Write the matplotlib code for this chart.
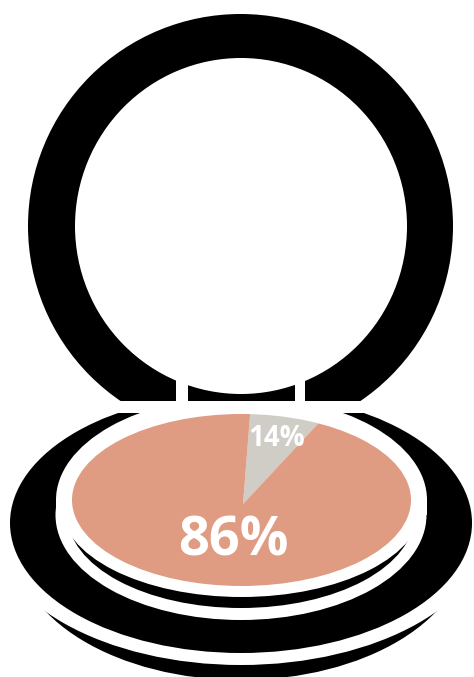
"""Compact mirror infographic: pie drawn inside a powder case."""
import matplotlib
matplotlib.use("Agg")
import matplotlib.pyplot as plt
from matplotlib.patches import Ellipse, Rectangle

labels = ["14%", "86%"]
# share of the ellipse the wedges really cover in the picture (not the printed %)
drawn_shares = [6.4, 93.6]
colors = ["#D0CCC6", "#E09C82"]

W, H = 474, 677
BLACK, WHITE = "#000000", "#FFFFFF"

fig = plt.figure(figsize=(W / 100, H / 100), dpi=100)
ax = fig.add_axes([0, 0, 1, 1])
ax.set_xlim(0, W)
ax.set_ylim(H, 0)
ax.axis("off")

# the lid stops at y=401, the base starts at y=413
lid_box = Rectangle((0, 0), W, 401, transform=ax.transData)
base_box = Rectangle((0, 413), W, H - 413, transform=ax.transData)
rim_box = Rectangle((0, 413), W, 505 - 413, transform=ax.transData)


def ell(cx, cy, rx, ry, color, box):
    p = Ellipse((cx, cy), 2 * rx, 2 * ry, facecolor=color, edgecolor="none")
    ax.add_patch(p)
    p.set_clip_path(box)


def rect(x0, y0, x1, y1, color):
    ax.add_patch(Rectangle((x0, y0), x1 - x0, y1 - y0, facecolor=color, edgecolor="none"))


# lid
ell(240.5, 226, 212.5, 212, BLACK, lid_box)
ell(241, 226, 166, 168, WHITE, lid_box)
rect(176, 350, 188, 405, WHITE)
rect(295, 350, 305, 405, WHITE)

# base, bottom layer first
ell(241, 542, 226, 138, BLACK, base_box)
ell(241, 523, 250, 142, WHITE, base_box)
ell(241, 523, 231, 130, BLACK, base_box)
ell(241, 515, 185.5, 105, WHITE, base_box)
ell(241, 515, 173.5, 93, BLACK, base_box)
ell(241.5, 500, 185.5, 104, WHITE, rim_box)
ell(241.5, 505, 181, 92, WHITE, base_box)
rect(56, 500, 427, 515, WHITE)

# pie squeezed into the ellipse of the pan
ax_pie = fig.add_axes([72 / W, 1 - 586 / H, 339 / W, 172 / H])
wedges, _ = ax_pie.pie(drawn_shares, colors=colors, startangle=87.7, counterclock=False,
                       center=(0.009, -0.047), radius=1.6)
ax_pie.set_aspect("auto")
ax_pie.set_xlim(-1, 1)
ax_pie.set_ylim(-1, 1)
ax_pie.axis("off")
clip = Ellipse((0, 0), 2, 2, transform=ax_pie.transData, facecolor="none", edgecolor="none")
ax_pie.add_patch(clip)
for w in wedges:
    w.set_clip_on(True)
    w.set_clip_path(clip)

fig.text(277 / W, 1 - 439 / H, labels[0], color=WHITE, fontsize=20, fontweight="bold",
         family="Open Sans", ha="center", va="center")
fig.text(233 / W, 1 - 541 / H, labels[1], color=WHITE, fontsize=39, fontweight="bold",
         family="Open Sans", ha="center", va="center")

fig.savefig("out.png", dpi=100, facecolor=WHITE)
plt.close(fig)
